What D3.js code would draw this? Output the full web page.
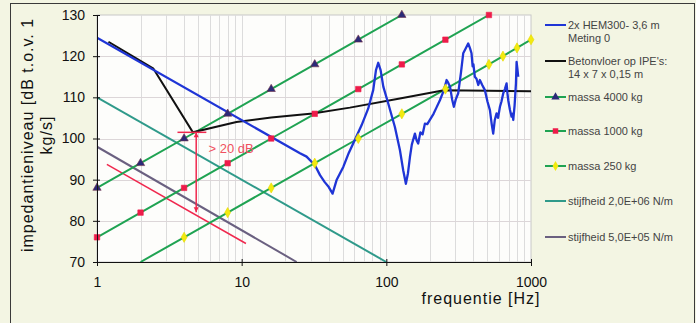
<!DOCTYPE html>
<html>
<head>
<meta charset="utf-8">
<script src="https://cdn.jsdelivr.net/npm/d3@7"></script>
<style>
  body { margin: 0; background: #f3f5e3; }
  svg { display: block; font-family: Arial, "Liberation Sans", sans-serif; }
</style>
</head>
<body>
<script>
// chart values: [frequency Hz, level dB]
const hem300 = [
  [1, 124.5], [25.3, 96.4], [28.1, 95.6], [32.1, 93.5], [34.8, 91.1], [37.5, 89.4], [40, 88.2],
  [42.5, 86.6], [45.3, 89.9], [50.4, 93.1], [55, 96.5], [59, 98.8], [67.4, 103.2], [75, 107.3],
  [81.2, 111.8], [84.8, 116.6], [87.9, 118.4], [91.3, 116.6], [95.3, 112.6], [103.1, 108.5],
  [114.6, 102.8], [124.1, 97.2], [130.8, 92.3], [136.5, 89.0], [141, 91.5], [145.6, 95.5],
  [150, 98.5], [157.6, 101.2], [162, 99.5], [166, 98.8], [172, 101.5], [178, 101], [184.7, 103.6],
  [192, 103.5], [200, 104.5], [212, 106], [222, 107.5], [234.6, 109.3], [250, 111.75], [261, 114.2],
  [268, 113.5], [275.6, 112.6], [285, 109.5], [293, 107.7], [302, 109.5], [314, 111], [328, 116],
  [340, 120.7], [355, 122], [368, 123.1], [378, 122], [388, 120.7], [395, 117.5], [400, 118],
  [409, 115], [420, 114.5], [432, 113], [443, 114.2], [460, 113], [480, 111.75], [500, 109],
  [520, 106.9], [535, 103.5], [548, 101.2], [562, 104.5], [578, 106.1], [592, 105], [610, 107.7],
  [625, 109], [643, 111], [660, 112], [678, 113.4], [687, 111], [696, 109.3], [715, 107],
  [734, 105.3], [745, 106], [754, 104.5], [770, 108], [787, 113.4], [795, 118.6], [805, 117], [816, 115]
];
const betonvloer = [[1.2, 123.5], [2.45, 117], [4.6, 101.5], [9.2, 104], [16, 105.1], [31, 106.1],
  [56, 107.5], [124, 109.7], [250, 111.7], [1000, 111.5]];
const massa4000 = [[1, 88], [2, 94], [4, 100], [8, 106], [16, 112], [32, 118], [64, 124], [128, 130]];
const massa1000 = [[1, 76], [2, 82], [4, 88], [8, 94], [16, 100], [32, 106], [64, 112], [128, 118],
  [256, 124], [512, 130]];
const massa250 = [[2, 70], [4, 76], [8, 82], [16, 88], [32, 94], [64, 100], [128, 106], [256, 112],
  [512, 118], [640, 120], [800, 122], [1000, 124]];
const stijf2e6 = [[1, 110], [100, 70]];
const stijf5e5 = [[1, 98], [24, 70]];
const rodeLijn = [[1.17, 93.7], [10.7, 74.5]];
const pijl = [[4.85, 82.1], [4.85, 101.5]];   // "> 20 dB" arrow
const pijlKap = [[3.6, 101.5], [5.7, 101.5]];

const xTicks = [1, 10, 100, 1000];
const yTicks = [70, 80, 90, 100, 110, 120, 130];
const legendLabels = [
  ["2x HEM300- 3,6 m", "Meting 0"],
  ["Betonvloer op IPE's:", "14 x 7 x 0,15 m"],
  ["massa 4000 kg"],
  ["massa 1000 kg"],
  ["massa 250 kg"],
  ["stijfheid 2,0E+06 N/m"],
  ["stijfheid 5,0E+05 N/m"]
];

const W = 696, H = 323;
const margin = { top: 15, right: 165, bottom: 61, left: 97 };
const width = W - margin.left - margin.right;   // 434
const height = H - margin.top - margin.bottom;  // 247

const svg = d3.select("body").append("svg").attr("width", W).attr("height", H);

// outer frame
svg.append("rect").attr("x", 0).attr("y", 0).attr("width", W).attr("height", H).attr("fill", "#f3f5e3");
svg.append("rect").attr("x", 10.5).attr("y", 3.5).attr("width", 684).attr("height", 340)
  .attr("fill", "none").attr("stroke", "#3a3a3a").attr("stroke-width", 1);

const g = svg.append("g").attr("transform", `translate(${margin.left},${margin.top})`);

const x = d3.scaleLog().domain([1, 1000]).range([0, width]);
const y = d3.scaleLinear().domain([70, 130]).range([height, 0]);

// plot area
g.append("rect").attr("width", width).attr("height", height).attr("fill", "#fdfdfb")
  .attr("stroke", "#c8c8c8");

// grid lines
const minor = [];
[1, 10, 100].forEach(d => { for (let k = 2; k <= 9; k++) minor.push(d * k); });
minor.push(10, 100);
g.append("g").selectAll("line").data(minor).join("line")
  .attr("x1", d => Math.round(x(d)) + 0.5).attr("x2", d => Math.round(x(d)) + 0.5)
  .attr("y1", 0).attr("y2", height)
  .attr("stroke", "#dcdcdc").attr("stroke-width", 1);
g.append("g").selectAll("line").data(yTicks.slice(1, -1)).join("line")
  .attr("x1", 0).attr("x2", width)
  .attr("y1", d => Math.round(y(d)) + 0.5).attr("y2", d => Math.round(y(d)) + 0.5)
  .attr("stroke", "#dcd6d8").attr("stroke-width", 1);

g.append("clipPath").attr("id", "clip").append("rect").attr("width", width).attr("height", height);
const plot = g.append("g").attr("clip-path", "url(#clip)");

const line = d3.line().x(d => x(d[0])).y(d => y(d[1]));

const green = "#1fa352";
plot.append("path").datum(stijf2e6).attr("d", line).attr("fill", "none").attr("stroke", "#2f9a8a").attr("stroke-width", 2);
plot.append("path").datum(stijf5e5).attr("d", line).attr("fill", "none").attr("stroke", "#6a6080").attr("stroke-width", 2);
plot.append("path").datum(rodeLijn).attr("d", line).attr("fill", "none").attr("stroke", "#f0284e").attr("stroke-width", 1.5);
[massa4000, massa1000, massa250].forEach(s => {
  plot.append("path").datum(s).attr("d", line).attr("fill", "none").attr("stroke", green).attr("stroke-width", 2);
});
plot.append("path").datum(betonvloer).attr("d", line).attr("fill", "none").attr("stroke", "#111").attr("stroke-width", 2);
plot.append("path").datum(hem300).attr("d", line).attr("fill", "none").attr("stroke", "#1f35d6").attr("stroke-width", 2.3)
  .attr("stroke-linejoin", "round");

// markers
const tri = d3.symbol().type(d3.symbolTriangle).size(30);
const sq = d3.symbol().type(d3.symbolSquare).size(30);
const dia = d3.symbol().type(d3.symbolDiamond).size(30);
function markers(data, sym, fill, stroke) {
  g.append("g").selectAll("path").data(data.filter(d => d[1] > 70)).join("path")
    .attr("d", sym).attr("transform", d => `translate(${x(d[0])},${y(d[1])})`)
    .attr("fill", fill).attr("stroke", stroke).attr("stroke-width", 0.6);
}
markers(massa4000, tri, "#2b2a78", "#70304a");
markers(massa1000, sq, "#ee1c4a", "#ee1c4a");
markers(massa250, dia, "#f2ea10", "#e8d800");

// red arrow and label
const red = "#f0284e";
g.append("path").datum(pijlKap).attr("d", line).attr("stroke", red).attr("stroke-width", 1.5);
g.append("path").datum(pijl).attr("d", line).attr("stroke", red).attr("stroke-width", 1.5);
pijl.forEach((d, i) => {
  const px = x(d[0]), py = y(d[1]), s = i === 0 ? -1 : 1;
  g.append("path").attr("d", `M${px - 2.5},${py + s * 5}L${px},${py}L${px + 2.5},${py + s * 5}Z`).attr("fill", red);
});
g.append("text").attr("x", x(5.9)).attr("y", y(96.4)).attr("fill", "#f05060")
  .attr("font-size", 13).text("> 20 dB");

// axes
const yAxis = g.append("g").call(d3.axisLeft(y).tickValues(yTicks).tickSize(4).tickPadding(8));
yAxis.select(".domain").attr("stroke", "#111");
yAxis.selectAll(".tick line").attr("x1", 3).attr("stroke", "#111");
yAxis.selectAll("text").attr("font-size", 14).attr("fill", "#111").attr("font-family", "Arial, 'Liberation Sans', sans-serif");

const xAxis = g.append("g").attr("transform", `translate(0,${height})`)
  .call(d3.axisBottom(x).tickValues(xTicks).tickFormat(d3.format("d")).tickSize(4).tickPadding(11));
xAxis.select(".domain").attr("stroke", "#111");
xAxis.selectAll(".tick line").attr("y1", -3).attr("stroke", "#111");
xAxis.selectAll("text").attr("font-size", 14).attr("fill", "#111").attr("font-family", "Arial, 'Liberation Sans', sans-serif");

// axis titles
svg.append("text").attr("x", 481).attr("y", 304).attr("text-anchor", "middle")
  .attr("font-size", 16).attr("letter-spacing", 1).attr("fill", "#111").text("frequentie [Hz]");
const yt = svg.append("text").attr("transform", "translate(33,135) rotate(-90)")
  .attr("text-anchor", "middle").attr("font-size", 16).attr("letter-spacing", 1).attr("fill", "#111");
yt.append("tspan").attr("x", 0).attr("y", 0).text("impedantieniveau [dB t.o.v. 1");
yt.append("tspan").attr("x", 0).attr("y", 19).text("kg/s]");

// legend
const legY = [25, 61, 97, 131, 166, 201, 237];
const legStyle = [
  { stroke: "#1f35d6" }, { stroke: "#111" },
  { stroke: green, sym: tri, fill: "#2b2a78" },
  { stroke: green, sym: sq, fill: "#ee1c4a" },
  { stroke: green, sym: dia, fill: "#f2ea10" },
  { stroke: "#2f9a8a" }, { stroke: "#6a6080" }
];
const leg = svg.append("g");
legendLabels.forEach((lines, i) => {
  const ly = legY[i], st = legStyle[i];
  leg.append("line").attr("x1", 545).attr("x2", 566).attr("y1", ly).attr("y2", ly)
    .attr("stroke", st.stroke).attr("stroke-width", 2);
  if (st.sym) leg.append("path").attr("d", st.sym).attr("transform", `translate(555.5,${ly})`).attr("fill", st.fill);
  lines.forEach((t, j) => {
    leg.append("text").attr("x", 568).attr("y", ly + 4 + j * 13).attr("font-size", 11)
      .attr("fill", "#444").text(t);
  });
});
</script>
</body>
</html>
